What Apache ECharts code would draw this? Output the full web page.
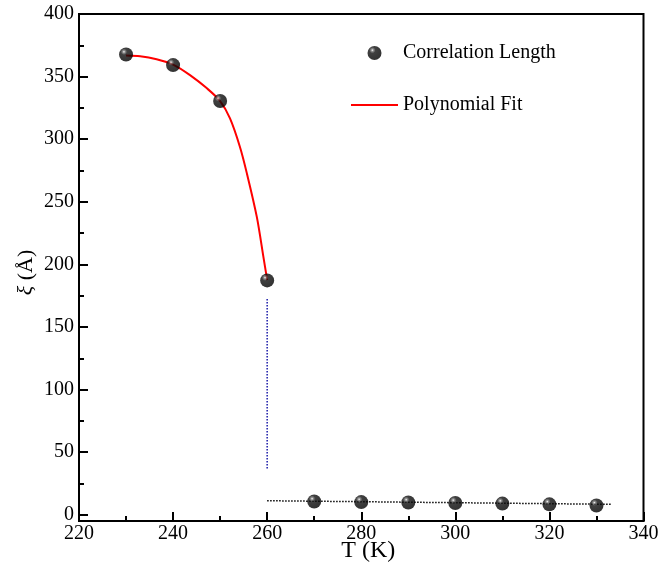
<!DOCTYPE html>
<html>
<head>
<meta charset="utf-8">
<script src="https://cdn.jsdelivr.net/npm/echarts@6/dist/echarts.min.js"></script>
<style>
  html, body { margin: 0; padding: 0; background: #fff; }
  #chart { width: 659px; height: 572px; }
</style>
</head>
<body>
<div id="chart"></div>
<script>
// measured points
const temps = [230, 240, 250, 260, 270, 280, 290, 300, 310, 320, 330];
const corrLength = [367.6, 359.2, 330.5, 187.2, 10.6, 10.1, 9.8, 9.4, 8.9, 8.3, 7.4];

// polynomial fit curve
const fitT = [230, 233, 236.5, 240, 243.6, 247.2, 250, 252.1, 254.2, 255.7, 257.8, 259.2, 260];
const fitXi = [366.8, 366.2, 363.8, 359.6, 351.2, 340.6, 330.4, 316.6, 294, 272.5, 237.9, 206, 187.4];

// dotted guide lines
const dropT = [260, 260];
const dropXi = [37, 173];
const flatT = [260, 333.3];
const flatXi = [11.2, 8.3];

// axis ticks
const yMajor = [0, 50, 100, 150, 200, 250, 300, 350, 400];
const yMinor = [25, 75, 125, 175, 225, 275, 325, 375];

const FONT = 'Liberation Serif';
const pairs = (xs, ys) => xs.map((x, i) => [x, ys[i]]);

const sphere = {
  type: 'radial', x: 0.35, y: 0.3, r: 0.7,
  colorStops: [
    { offset: 0, color: '#ffffff' },
    { offset: 0.12, color: '#777777' },
    { offset: 0.32, color: '#101010' },
    { offset: 1, color: '#000000' }
  ]
};

const chart = echarts.init(document.getElementById('chart'));

const baseY = {
  type: 'value',
  min: -5,
  max: 400,
  position: 'left',
  splitLine: { show: false },
  axisLine: { show: true, lineStyle: { color: '#000', width: 2 } }
};

chart.setOption({
  animation: false,
  backgroundColor: '#fff',
  grid: {
    left: 79, right: 15.5, top: 14, bottom: 51,
    containLabel: false,
    outerBoundsMode: 'none',
    show: true, borderColor: '#000', borderWidth: 2
  },
  legend: {
    left: 345, top: 38,
    orient: 'vertical',
    itemWidth: 47, itemHeight: 14, itemGap: 32,
    data: [
      'Correlation Length',
      { name: 'Polynomial Fit', itemStyle: { opacity: 0 } }
    ],
    textStyle: { fontFamily: FONT, fontSize: 20, color: '#000' }
  },
  xAxis: {
    type: 'value',
    min: 220, max: 340, interval: 20,
    name: 'T (K)',
    nameLocation: 'middle',
    nameGap: 18,
    nameMoveOverlap: false,
    nameTextStyle: { fontFamily: FONT, fontSize: 24, color: '#000', padding: [0, 0, 0, 14] },
    splitLine: { show: false },
    axisLine: { onZero: false, lineStyle: { color: '#000', width: 2 } },
    axisTick: { inside: true, length: 9, lineStyle: { color: '#000', width: 2 } },
    minorTick: { show: true, splitNumber: 2, length: 5, lineStyle: { color: '#000', width: 2 } },
    axisLabel: { margin: 3, fontFamily: FONT, fontSize: 20, color: '#000' }
  },
  yAxis: [
    Object.assign({}, baseY, {
      name: '{i|ξ} (Å)',
      nameLocation: 'middle',
      nameRotate: 90,
      nameGap: 42,
      nameMoveOverlap: false,
      nameTextStyle: {
        fontFamily: FONT, fontSize: 22, color: '#000',
        padding: [0, 10, 0, 0],
        rich: { i: { fontFamily: FONT, fontSize: 22, fontStyle: 'italic', color: '#000' } }
      },
      axisTick: { inside: true, length: 9, customValues: yMajor, lineStyle: { color: '#000', width: 2 } },
      axisLabel: { margin: 5, customValues: yMajor, fontFamily: FONT, fontSize: 20, color: '#000' }
    }),
    Object.assign({}, baseY, {
      axisTick: { inside: true, length: 5, customValues: yMinor, lineStyle: { color: '#000', width: 2 } },
      axisLabel: { show: false }
    })
  ],
  series: [
    {
      name: 'Polynomial Fit',
      type: 'line',
      data: pairs(fitT, fitXi),
      smooth: 0.3,
      symbol: 'none',
      lineStyle: { color: '#ff0000', width: 2 },
      itemStyle: { color: '#ff0000' },
      z: 2
    },
    {
      name: 'drop',
      type: 'line',
      data: pairs(dropT, dropXi),
      symbol: 'none',
      lineStyle: { color: '#1a1aa8', width: 1.5, type: 'dotted' },
      z: 2
    },
    {
      name: 'flat',
      type: 'line',
      data: pairs(flatT, flatXi),
      symbol: 'none',
      lineStyle: { color: '#000', width: 1.5, type: 'dotted' },
      z: 2
    },
    {
      name: 'Correlation Length',
      type: 'scatter',
      data: pairs(temps, corrLength),
      symbol: 'circle',
      symbolSize: 14,
      itemStyle: { color: sphere },
      z: 3
    }
  ]
});
</script>
</body>
</html>
